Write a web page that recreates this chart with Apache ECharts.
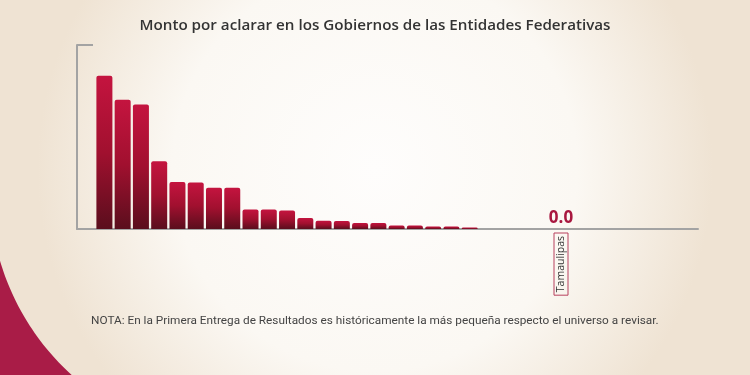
<!DOCTYPE html>
<html>
<head>
<meta charset="utf-8">
<script src="https://cdn.jsdelivr.net/npm/echarts@6/dist/echarts.min.js"></script>
<style>
  html, body { margin: 0; padding: 0; }
  #main { width: 750px; height: 375px; }
</style>
</head>
<body>
<div id="main"></div>
<script>
// categorias: solo se rotula Tamaulipas, las demas entidades quedan sin nombre
const categorias = [
  "", "", "", "", "", "", "", "", "", "", "", "", "", "", "", "", "", "",
  "", "", "", "", "", "", "", "", "Tamaulipas", "", "", "", "", "", "", ""
];
// monto por aclarar (escala relativa, maximo del eje = 100)
const montos = [
  null, 83.3, 70.2, 67.6, 36.8, 25.5, 25.3, 22.4, 22.4, 10.6, 10.6, 10.0,
  6.0, 4.5, 4.4, 3.3, 3.3, 1.9, 1.9, 1.3, 1.3, 0.8, null, null, null, null,
  0.0, null, null, null, null, null, null, null
];
const indiceEtiqueta = 26;

const myChart = echarts.init(document.getElementById("main"));

const datosSerie = montos.map(function (v, i) {
  if (i === indiceEtiqueta) {
    return {
      value: v,
      label: {
        show: true,
        position: "top",
        distance: 2,
        formatter: function (p) { return p.value.toFixed(1); },
        color: "#a8173f",
        fontFamily: "Open Sans",
        fontWeight: "bold",
        fontSize: 17
      }
    };
  }
  return v;
});

// curva decorativa de la esquina inferior izquierda (fuera de un circulo grande)
const curva = [];
const cx = 238, cy = 191, r = 248;
const a0 = Math.atan2(258 - cy, 0 - cx), a1 = Math.atan2(375 - cy, 72 - cx);
for (let k = 0; k <= 30; k++) {
  const a = a0 + (a1 - a0) * k / 30;
  curva.push([cx + r * Math.cos(a), cy + r * Math.sin(a)]);
}
curva.push([0, 375]);

const option = {
  backgroundColor: {
    type: "radial",
    x: 0.5, y: 0.45, r: 0.9,
    colorStops: [
      { offset: 0, color: "#fefdfc" },
      { offset: 0.6, color: "#fbf8f3" },
      { offset: 1, color: "#efe3d3" }
    ]
  },
  title: {
    text: "Monto por aclarar en los Gobiernos de las Entidades Federativas",
    left: "center",
    top: 13,
    textStyle: {
      fontFamily: "Open Sans",
      fontWeight: 600,
      fontSize: 15.2,
      color: "#333333"
    }
  },
  graphic: [
    {
      type: "polygon",
      z: -1,
      shape: { points: curva },
      style: { fill: "#a91c47" }
    },
    {
      type: "text",
      left: 91,
      top: 315,
      style: {
        text: "NOTA: En la Primera Entrega de Resultados es históricamente la más pequeña respecto el universo a revisar.",
        font: "11.8px Roboto",
        fill: "#444444"
      }
    }
  ],
  grid: { left: 77, right: 52, top: 45, bottom: 146 },
  xAxis: {
    type: "category",
    data: categorias,
    axisLine: { lineStyle: { color: "#a3a3a3", width: 2 } },
    axisTick: { show: false },
    axisLabel: {
      interval: function (i, v) { return v !== ""; },
      rotate: 90,
      margin: 4,
      color: "#333333",
      fontFamily: "Open Sans",
      fontSize: 10.5,
      borderColor: "#b8405e",
      borderWidth: 1,
      padding: [2, 3, 1, 3]
    }
  },
  yAxis: {
    type: "value",
    min: 0,
    max: 100,
    interval: 100,
    axisLine: { show: true, lineStyle: { color: "#a3a3a3", width: 2 } },
    axisTick: { show: true, inside: true, length: 16, lineStyle: { color: "#a3a3a3", width: 2 } },
    axisLabel: { show: false },
    splitLine: { show: false }
  },
  series: [
    {
      type: "bar",
      data: datosSerie,
      barWidth: 16,
      itemStyle: {
        borderRadius: [2, 2, 0, 0],
        color: {
          type: "linear",
          x: 0, y: 0, x2: 0, y2: 1,
          colorStops: [
            { offset: 0, color: "#c4143f" },
            { offset: 0.5, color: "#a1102f" },
            { offset: 1, color: "#5a0e1d" }
          ]
        }
      },
      animation: false
    }
  ]
};

myChart.setOption(option);
</script>
</body>
</html>
